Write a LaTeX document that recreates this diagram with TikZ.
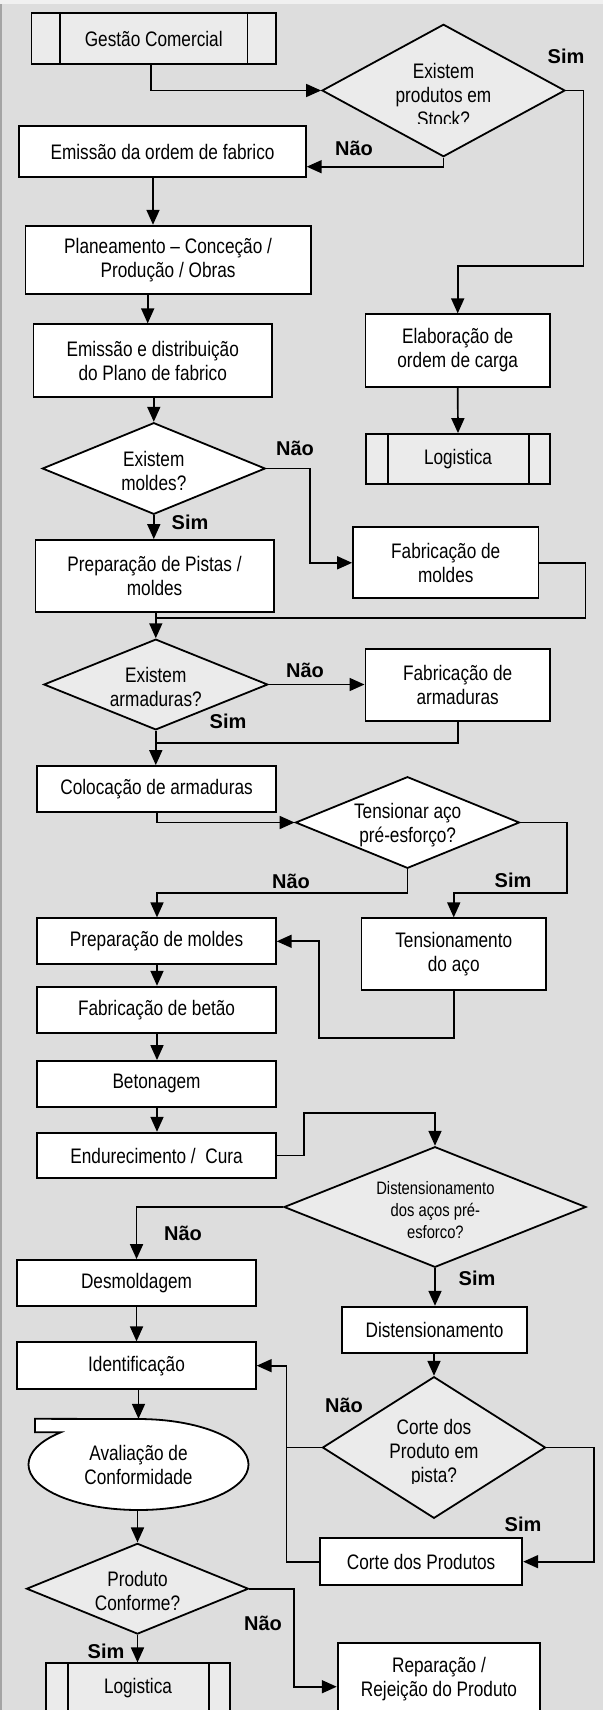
\documentclass[tikz,border=0pt]{standalone}
\usepackage{fontspec}
\setmainfont{Liberation Sans}[FakeStretch=0.82]
\newfontfamily\lblfnt{Liberation Sans}
\usetikzlibrary{arrows.meta,shapes.geometric}
\definecolor{bgc}{HTML}{DDDDDD}
\definecolor{gshape}{HTML}{EBEBEB}
\definecolor{topc}{HTML}{F0F0F0}
\definecolor{edgec}{HTML}{A4A4A4}
\tikzset{
  txtfont/.style={font=\fontsize{21}{24}\selectfont},
  pbox/.style={rectangle, draw, line width=1.8pt, fill=white, inner sep=0pt, align=center, txtfont},
  gpbox/.style={pbox, fill=gshape},
  qd/.style={diamond, draw, line width=1.8pt, inner sep=0pt, fill=white},
  gqd/.style={qd, fill=gshape},
  dtxt/.style={align=center, inner sep=0pt, txtfont},
  lbl/.style={inner sep=0pt, font=\lblfnt\bfseries\fontsize{20}{24}\selectfont},
  conn/.style={line width=1.7pt},
  arr/.style={conn, -{Triangle[length=15pt,width=13pt]}},
  pline/.style={line width=1.8pt},
}
\begin{document}
\begin{tikzpicture}[x=1pt,y=-1pt]
\useasboundingbox (0,0) rectangle (603,1710);
\fill[bgc] (0,0) rectangle (603,1710);
\fill[edgec] (0,0) rectangle (2,1710);
\fill[topc] (0,0) rectangle (603,4);

% ---------- top section
\node[gpbox, minimum width=244.5pt, minimum height=51.6pt] (ges) at (153.75,38.5) {Gestão Comercial};
\draw[pline] ([xshift=29.3pt]ges.north west) -- ([xshift=29.3pt]ges.south west);
\draw[pline] ([xshift=-29.5pt]ges.north east) -- ([xshift=-29.5pt]ges.south east);

\node[gqd, minimum width=243pt, minimum height=132.4pt] (q1) at (443.5,90.5) {};
\begin{scope}
\clip (330,20) rectangle (560,123.3);
\node[dtxt] (q1t) at (443.5,94.5) {Existem\\produtos em\\Stock?};
\end{scope}

\node[pbox, minimum width=286.6pt, minimum height=51.6pt] (emo) at (162.5,151.5) {Emissão da ordem de fabrico};
\node[pbox, minimum width=285.4pt, minimum height=68.3pt] (plan) at (168.1,259.85) {Planeamento – Conceção /\\Produção / Obras};
\node[pbox, minimum width=238.5pt, minimum height=72.4pt] (emd) at (152.75,360.5) {Emissão e distribuição\\do Plano de fabrico};
\node[pbox, minimum width=184.6pt, minimum height=72.4pt] (elab) at (457.7,350.5) {Elaboração de\\ordem de carga};
\node[gpbox, minimum width=184pt, minimum height=50.3pt] (log1) at (458,459.15) {Logistica};
\draw[pline] ([xshift=23.2pt]log1.north west) -- ([xshift=23.2pt]log1.south west);
\draw[pline] ([xshift=-22pt]log1.north east) -- ([xshift=-22pt]log1.south east);

\node[qd, minimum width=223pt, minimum height=91.6pt] (q2) at (153.8,468.5) {};
\node[dtxt] (q2t) at (153.8,470.5) {Existem\\moldes?};

\node[pbox, minimum width=238.4pt, minimum height=72.3pt] (ppist) at (154.6,576.15) {Preparação de Pistas /\\moldes};
\node[pbox, minimum width=185.5pt, minimum height=71pt] (fmold) at (445.75,562.8) {Fabricação de\\moldes};

\node[gqd, minimum width=224pt, minimum height=90.7pt] (q3) at (155.8,684.5) {};
\node[dtxt] (q3t) at (155.8,687) {Existem\\armaduras?};
\node[pbox, minimum width=184.6pt, minimum height=71.7pt] (farm) at (457.7,684.85) {Fabricação de\\armaduras};

\node[pbox, minimum width=238.5pt, minimum height=46.3pt] (colo) at (156.55,789.15) {Colocação de armaduras};
\node[qd, minimum width=224pt, minimum height=91.6pt] (q4) at (407.5,822.5) {};
\node[dtxt] (q4t) at (407.7,825) {Tensionar aço\\pré-esforço?};

\node[pbox, minimum width=238.5pt, minimum height=46pt] (prepm) at (156.55,941.3) {Preparação de moldes};
\node[pbox, minimum width=184.5pt, minimum height=71.7pt] (tens) at (453.75,954.15) {Tensionamento\\do aço};
\node[pbox, minimum width=238.5pt, minimum height=46pt] (fbet) at (156.55,1009.7) {Fabricação de betão};
\node[pbox, minimum width=238.5pt, minimum height=45.7pt] (beto) at (156.55,1083.85) {Betonagem};
\node[pbox, minimum width=238.5pt, minimum height=45.6pt] (endu) at (156.55,1155.5) {Endurecimento /\ \ Cura};

\node[gqd, minimum width=302pt, minimum height=120.6pt] (q5) at (435,1207) {};
\node[dtxt, font=\fontsize{18}{22}\selectfont] (q5t) at (435.4,1210.5) {Distensionamento\\dos aços pré-\\esforco?};

\node[pbox, minimum width=238.5pt, minimum height=46pt] (desm) at (136.55,1283) {Desmoldagem};
\node[pbox, minimum width=184.5pt, minimum height=46pt] (dist) at (434.5,1329.7) {Distensionamento};
\node[pbox, minimum width=238.5pt, minimum height=46.7pt] (ident) at (136.55,1365.65) {Identificação};

\node[gqd, minimum width=223pt, minimum height=141.6pt] (q6) at (434,1447.5) {};
\begin{scope}
\clip (330,1400) rectangle (540,1483.3);
\node[dtxt] (q6t) at (434,1452.8) {Corte dos\\Produto em\\pista?};
\end{scope}
\node[pbox, minimum width=202.3pt, minimum height=46.7pt] (corte) at (421.15,1561.65) {Corte dos Produtos};

% Avaliacao shape
\node[ellipse, fill=white, inner sep=0pt, minimum width=220pt, minimum height=91pt, align=center, txtfont] (aval) at (138.5,1464.5) {Avaliação de\\Conformidade};
\path (aval.center) ++(135:110pt and 45.5pt) coordinate (tabin);
\fill[white] (35,0 |- aval.north) -- (aval.north) -- (tabin) -- (35,0 |- tabin) -- cycle;
\draw[pline] (tabin) arc[start angle=135, end angle=450, x radius=110pt, y radius=45.5pt] -- (35,0 |- aval.north) -- (35,0 |- tabin) -- cycle;

\node[gqd, minimum width=222pt, minimum height=90.7pt] (q7) at (137.5,1588.7) {};
\node[dtxt] (q7t) at (137.5,1591) {Produto\\Conforme?};

\node[gpbox, minimum width=184pt, minimum height=50.3pt] (log2) at (138,1688.5) {Logistica};
\draw[pline] ([xshift=22.5pt]log2.north west) -- ([xshift=22.5pt]log2.south west);
\draw[pline] ([xshift=-22.3pt]log2.north east) -- ([xshift=-22.3pt]log2.south east);
\node[pbox, minimum width=202.7pt, minimum height=71.8pt] (repa) at (439,1679.2) {Reparação /\\Rejeição do Produto};

% ---------- connectors
\draw[arr] (150.8,0 |- ges.south) |- (q1.west);
\draw[arr] (q1.east) -| (583.5,265.7) -| (elab.north);
\draw[arr] (q1.south) |- (emo.east |- 0,166.7);
\draw[arr] (153,0 |- emo.south) -- (153,0 |- plan.north);
\draw[arr] (147.7,0 |- plan.south) -- (147.7,0 |- emd.north);
\draw[arr] (emd.south -| q2.north) -- (q2.north);
\draw[arr] (elab.south) -- (log1.north);
\draw[arr] (q2.south) -- (q2.south |- ppist.north);
\draw[arr] (q2.east) -| (310,0 |- fmold.west) -- (fmold.west);
\coordinate (j1) at (155.8,618.3);
\draw[conn] (fmold.east) -| (585.4,0 |- j1) -- (j1);
\draw[arr] (q3.north |- ppist.south) -- (q3.north);
\draw[arr] (q3.east) -- (farm.west |- q3.east);
\coordinate (j2) at (155.8,743.3);
\draw[conn] (farm.south) |- (j2);
\draw[arr] (q3.south) -- (q3.south |- colo.north);
\draw[arr] (157,0 |- colo.south) |- (q4.west);
\draw[arr] (q4.south) -- (407.5,893.3) -| (157,0 |- prepm.north);
\draw[arr] (q4.east) -| (567.3,893.3) -| (tens.north);
\draw[arr] (tens.south) |- (318.8,1038.3) |- (prepm.east);
\draw[arr] (157,0 |- prepm.south) -- (157,0 |- fbet.north);
\draw[arr] (157,0 |- fbet.south) -- (157,0 |- beto.north);
\draw[arr] (157,0 |- beto.south) -- (157,0 |- endu.north);
\draw[arr] (endu.east) -| (303.8,1112.7) -| (q5.north);
\draw[arr] (q5.west) -| (desm.north);
\draw[arr] (q5.south) -- (q5.south |- dist.north);
\draw[arr] (desm.south) -- (desm.south |- ident.north);
\draw[arr] (dist.south -| q6.north) -- (q6.north);
\draw[arr] (ident.south -| aval.north) -- (aval.north);
\draw[conn] (q6.west) -- (286.5,0 |- q6.west);
\draw[arr] (corte.west) -| (286.5,0 |- ident.east) -- (ident.east);
\draw[arr] (q6.east) -| (594.2,0 |- corte.east) -- (corte.east);
\draw[arr] (aval.south -| q7.north) -- (q7.north);
\draw[arr] (q7.south) -- (q7.south |- log2.north);
\draw[arr] (q7.east) -| (294.2,1686.7) -- (repa.west |- 0,1686.7);

% ---------- labels
\node[lbl] (l1) at (566,56) {Sim};
\node[lbl] (l2) at (354,148) {Não};
\node[lbl] (l3) at (295,448) {Não};
\node[lbl] (l4) at (190,522) {Sim};
\node[lbl] (l5) at (305,670) {Não};
\node[lbl] (l6) at (228,721) {Sim};
\node[lbl] (l7) at (291,881) {Não};
\node[lbl] (l8) at (513,880) {Sim};
\node[lbl] (l9) at (183,1233) {Não};
\node[lbl] (l10) at (477,1278) {Sim};
\node[lbl] (l11) at (344,1405) {Não};
\node[lbl] (l12) at (523,1524) {Sim};
\node[lbl] (l13) at (263,1623) {Não};
\node[lbl] (l14) at (106,1651) {Sim};
\end{tikzpicture}
\end{document}
